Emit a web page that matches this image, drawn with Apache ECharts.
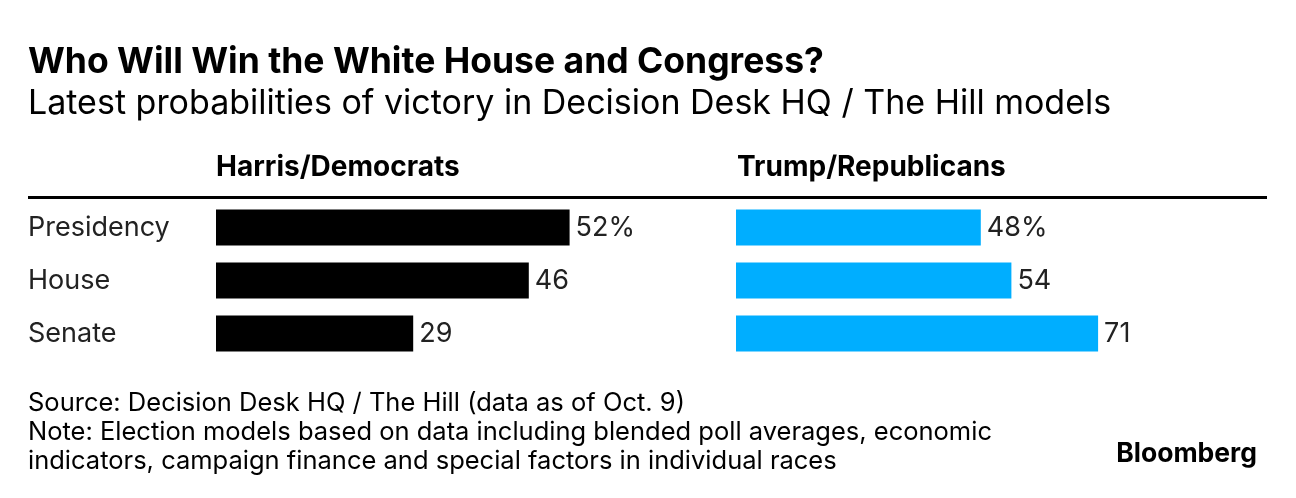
<!DOCTYPE html>
<html>
<head>
<meta charset="utf-8">
<script src="https://cdn.jsdelivr.net/npm/echarts@6/dist/echarts.min.js"></script>
<style>
html,body{margin:0;padding:0;background:#fff;}
#chart{width:1296px;height:498px;}
</style>
</head>
<body>
<div id="chart"></div>
<script>
const categories = ['Presidency', 'House', 'Senate'];
const demValues = [52, 46, 29];
const repValues = [48, 54, 71];
const demLabels = ['52%', '46', '29'];
const repLabels = ['48%', '54', '71'];

const FONT = 'Inter, "Liberation Sans", Arial, sans-serif';
const chart = echarts.init(document.getElementById('chart'));

function labelFmt(arr){ return p => arr[p.dataIndex]; }
function txt(x, y, text, font, align){
  return {type: 'text', x: x, y: y,
          style: {text: text, font: font + ' ' + FONT, fill: '#000', align: align || 'left', verticalAlign: 'middle'}};
}

const option = {
  backgroundColor: '#fff',
  animation: false,
  grid: [
    {left: 216, top: 201, width: 476, height: 159},
    {left: 736, top: 201, width: 510, height: 159}
  ],
  xAxis: [
    {gridIndex: 0, type: 'value', min: 0, max: 70, show: false},
    {gridIndex: 1, type: 'value', min: 0, max: 100, show: false}
  ],
  yAxis: [
    {gridIndex: 0, type: 'category', data: categories, inverse: true,
     axisLine: {show: false}, axisTick: {show: false}, splitLine: {show: false},
     axisLabel: {align: 'left', margin: 188, color: '#222', fontSize: 27, fontFamily: FONT, padding: [0,0,3,0]}},
    {gridIndex: 1, type: 'category', data: categories, inverse: true, show: false}
  ],
  series: [
    {type: 'bar', xAxisIndex: 0, yAxisIndex: 0, data: demValues, barWidth: 36,
     itemStyle: {color: '#000'},
     label: {show: true, position: 'right', distance: 6, formatter: labelFmt(demLabels),
             color: '#222', fontSize: 27, fontFamily: FONT}},
    {type: 'bar', xAxisIndex: 1, yAxisIndex: 1, data: repValues, barWidth: 36,
     itemStyle: {color: '#00AEFF'},
     label: {show: true, position: 'right', distance: 6, formatter: labelFmt(repLabels),
             color: '#222', fontSize: 27, fontFamily: FONT}}
  ],
  graphic: [
    txt(28, 62, 'Who Will Win the White House and Congress?', 'bold 35.5px'),
    txt(28, 104, 'Latest probabilities of victory in Decision Desk HQ / The Hill models', '34px'),
    txt(216, 168, 'Harris/Democrats', 'bold 28px'),
    txt(737, 168, 'Trump/Republicans', 'bold 28px'),
    {type: 'rect', shape: {x: 28, y: 196, width: 1239, height: 3}, style: {fill: '#000'}},
    txt(28, 403, 'Source: Decision Desk HQ / The Hill (data as of Oct. 9)', '25.5px'),
    txt(28, 432, 'Note: Election models based on data including blended poll averages, economic', '25.5px'),
    txt(28, 461, 'indicators, campaign finance and special factors in individual races', '25.5px'),
    txt(1257, 454, 'Bloomberg', 'bold 26.5px', 'right')
  ]
};
chart.setOption(option);
</script>
</body>
</html>
